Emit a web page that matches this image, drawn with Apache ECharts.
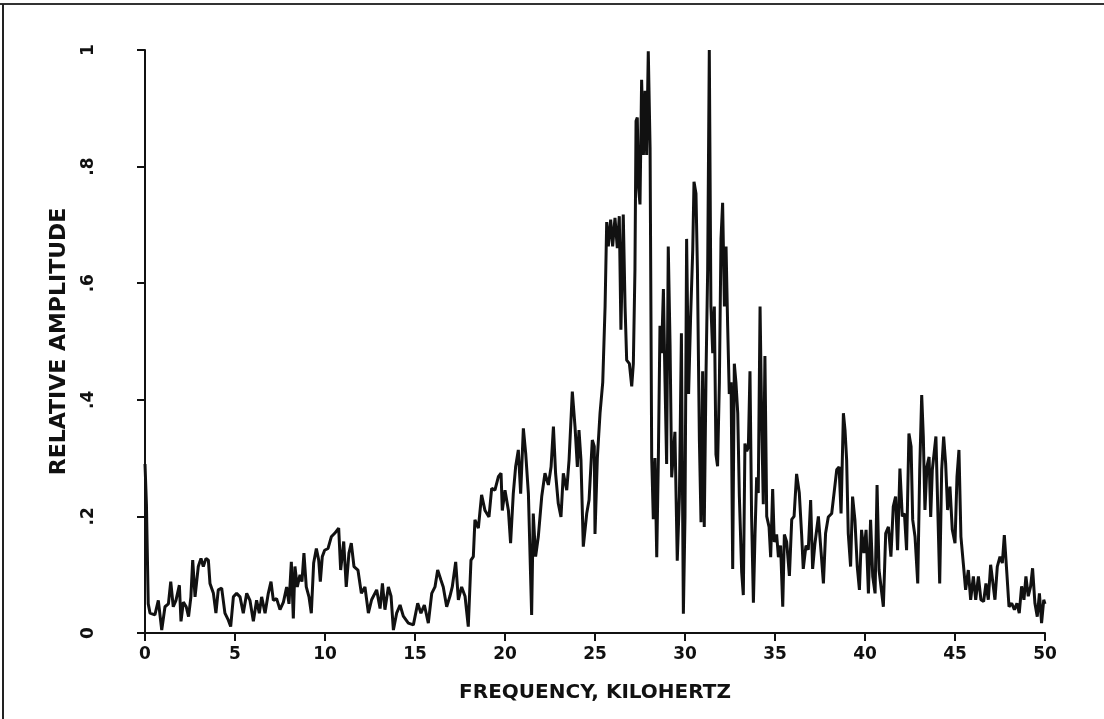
<!DOCTYPE html>
<html>
<head>
<meta charset="utf-8">
<script src="https://cdn.jsdelivr.net/npm/echarts@6/dist/echarts.min.js"></script>
<style>
html,body{margin:0;padding:0;background:#fff;}
#chart{width:1104px;height:719px;}
</style>
</head>
<body>
<div id="chart"></div>
<script>
// Frequency (kHz) and relative amplitude
const freqKHz = [
0,0.08,0.18,0.28,0.55,0.74,0.93,1.11,1.30,1.43,1.57,1.72,1.91,2.0,2.13,2.29,2.42,2.55,2.65,2.78,2.96,3.11,3.24,3.39,3.52,3.61,3.80,3.94,4.07,4.26,4.44,4.63,4.76,4.91,5.09,5.28,5.46,5.65,5.83,6.02,6.20,6.35,6.48,6.67,6.85,7.0,7.13,7.31,7.50,7.69,7.87,8.0,8.13,8.24,8.33,8.46,8.61,8.72,8.83,8.96,9.11,9.24,9.37,9.52,9.65,9.74,9.85,9.98,10.17,10.35,10.54,10.76,10.87,11.04,11.18,11.33,11.46,11.61,11.83,12.02,
12.22,12.41,12.59,12.87,13.06,13.19,13.33,13.52,13.67,13.80,13.98,14.17,14.35,14.63,14.91,15.15,15.33,15.52,15.74,15.93,16.11,16.26,16.44,16.57,16.76,16.94,17.07,17.26,17.41,17.59,17.78,17.96,18.11,18.24,18.33,18.52,18.70,18.89,19.11,19.26,19.44,19.63,19.78,19.85,20.0,20.19,20.31,20.46,20.59,20.74,20.87,21.02,21.15,21.30,21.48,21.57,21.70,21.85,22.04,22.22,22.41,22.56,22.69,22.81,22.96,23.11,23.24,23.43,23.56,23.74,23.89,24.02,24.11,24.22,24.35,24.54,24.67,24.85,24.96,
25.0,25.13,25.28,25.43,25.56,25.65,25.74,25.87,25.98,26.11,26.24,26.35,26.44,26.57,26.67,26.76,26.91,27.04,27.13,27.22,27.28,27.35,27.41,27.5,27.59,27.69,27.78,27.87,27.96,28.06,28.15,28.24,28.33,28.43,28.52,28.61,28.70,28.80,28.89,28.98,29.07,29.17,29.26,29.44,29.57,29.69,29.80,29.91,30.0,30.09,30.20,30.31,30.43,30.5,30.61,30.69,30.80,30.89,30.98,31.07,31.17,31.26,31.35,31.44,31.54,31.63,31.72,31.81,31.91,32.0,32.09,32.19,32.28,32.37,32.46,32.56,32.65,32.74,32.83,32.93,33.02,33.15,33.24,33.33,33.43,33.52,33.61,33.70,33.80,33.89,33.98,34.07,34.17,34.26,34.35,34.44,34.54,34.67,34.76,34.87,34.96,35.09,35.19,35.31,35.43,35.52,35.65,35.80,35.93,36.06,36.20,36.35,36.48,36.57,36.72,36.85,36.98,37.09,
37.22,37.41,37.56,37.69,37.81,37.96,38.15,38.30,38.43,38.56,38.67,38.80,38.89,38.98,39.07,39.20,39.31,39.44,39.57,39.69,39.81,39.94,40.06,40.19,40.31,40.43,40.56,40.67,40.78,40.89,41.02,41.15,41.30,41.44,41.57,41.70,41.81,41.94,42.07,42.19,42.31,42.44,42.56,42.65,42.78,42.93,43.04,43.15,43.24,43.33,43.44,43.56,43.65,43.74,43.85,43.94,44.04,44.15,44.26,44.37,44.48,44.59,44.72,44.85,45.0,45.11,45.22,45.33,45.46,45.59,45.74,45.87,46.02,46.15,46.30,46.44,46.59,46.72,46.85,46.98,47.09,47.22,47.35,47.50,47.63,47.74,47.87,48.0,48.15,48.30,48.44,48.57,48.70,48.83,48.94,49.07,49.20,49.31,49.44,49.57,49.69,49.81,49.93,50.0
];
const amplitude = [
0.29,0.22,0.05,0.034,0.031,0.056,0.005,0.045,0.05,0.088,0.045,0.056,0.082,0.02,0.053,0.045,0.028,0.062,0.125,0.062,0.114,0.128,0.114,0.128,0.125,0.085,0.068,0.034,0.074,0.077,0.034,0.022,0.011,0.062,0.068,0.062,0.034,0.068,0.056,0.02,0.056,0.034,0.062,0.034,0.068,0.088,0.056,0.059,0.04,0.053,0.079,0.05,0.122,0.025,0.114,0.079,0.10,0.088,0.137,0.079,0.062,0.034,0.12,0.145,0.125,0.088,0.131,0.142,0.145,0.165,0.171,0.18,0.108,0.157,0.079,0.137,0.154,0.114,0.108,0.068,
0.079,0.034,0.057,0.074,0.042,0.085,0.04,0.079,0.063,0.005,0.034,0.048,0.029,0.017,0.014,0.051,0.034,0.048,0.017,0.068,0.079,0.108,0.091,0.079,0.045,0.063,0.079,0.122,0.057,0.079,0.063,0.011,0.125,0.131,0.194,0.18,0.237,0.21,0.199,0.248,0.245,0.268,0.274,0.21,0.245,0.21,0.154,0.239,0.285,0.314,0.239,0.351,0.308,0.239,0.031,0.205,0.131,0.165,0.234,0.274,0.254,0.285,0.354,0.274,0.222,0.199,0.274,0.245,0.297,0.414,0.354,0.285,0.348,0.297,0.148,0.205,0.228,0.331,0.32,
0.17,0.30,0.377,0.43,0.56,0.705,0.663,0.709,0.663,0.712,0.66,0.715,0.52,0.718,0.56,0.468,0.462,0.423,0.462,0.624,0.878,0.884,0.767,0.735,0.949,0.82,0.93,0.82,0.998,0.832,0.30,0.195,0.30,0.13,0.30,0.527,0.48,0.59,0.43,0.29,0.663,0.494,0.267,0.345,0.124,0.234,0.514,0.033,0.2,0.676,0.41,0.54,0.657,0.774,0.754,0.624,0.33,0.19,0.449,0.182,0.449,0.624,1.0,0.56,0.48,0.56,0.306,0.286,0.43,0.676,0.738,0.56,0.663,0.527,0.41,0.43,0.11,0.462,0.43,0.377,0.234,0.104,0.065,0.325,0.312,0.319,0.449,0.2,0.052,0.169,0.267,0.24,0.56,0.364,0.221,0.475,0.2,0.182,0.13,0.247,0.156,0.169,0.13,0.15,0.045,0.169,0.156,0.098,0.195,0.2,0.273,0.24,0.169,0.11,0.15,0.143,0.228,0.11,
0.154,0.2,0.139,0.085,0.171,0.199,0.205,0.245,0.28,0.285,0.205,0.377,0.348,0.297,0.171,0.114,0.234,0.194,0.114,0.074,0.177,0.137,0.177,0.068,0.194,0.097,0.068,0.254,0.108,0.108,0.045,0.171,0.182,0.131,0.217,0.234,0.142,0.282,0.2,0.205,0.142,0.342,0.32,0.194,0.165,0.085,0.28,0.408,0.337,0.211,0.285,0.302,0.199,0.28,0.28,0.337,0.217,0.085,0.28,0.337,0.291,0.211,0.251,0.177,0.154,0.268,0.314,0.165,0.12,0.074,0.108,0.057,0.097,0.057,0.097,0.057,0.054,0.085,0.057,0.117,0.12,0.057,0.114,0.131,0.12,0.168,0.108,0.045,0.051,0.04,0.051,0.034,0.08,0.057,0.097,0.063,0.08,0.111,0.051,0.028,0.068,0.017,0.057,0.05
];
const xTicks = [0,5,10,15,20,25,30,35,40,45,50];
const yTickLabels = {0:'0',0.2:'.2',0.4:'.4',0.6:'.6',0.8:'.8',1:'1'};

const series = freqKHz.map((f, i) => [f, amplitude[i]]);
const FONT = 'DejaVu Sans';
const INK = '#111';

const chart = echarts.init(document.getElementById('chart'), null, {renderer: 'canvas'});
chart.setOption({
  animation: false,
  backgroundColor: '#fff',
  grid: {left: 145, right: 59, top: 50, bottom: 86, containLabel: false},
  xAxis: {
    type: 'value', min: xTicks[0], max: xTicks[xTicks.length - 1], interval: 5,
    axisLine: {show: true, onZero: false, lineStyle: {color: INK, width: 2}},
    axisTick: {show: true, inside: false, length: 8, lineStyle: {color: INK, width: 2}},
    splitLine: {show: false},
    axisLabel: {color: INK, fontFamily: FONT, fontWeight: 'bold', fontSize: 17, margin: 13},
    name: 'FREQUENCY, KILOHERTZ', nameLocation: 'middle', nameGap: 50,
    nameTextStyle: {color: INK, fontFamily: FONT, fontWeight: 'bold', fontSize: 20}
  },
  yAxis: {
    type: 'value', min: 0, max: 1, interval: 0.2,
    axisLine: {show: true, lineStyle: {color: INK, width: 2}},
    axisTick: {show: true, inside: false, length: 8, lineStyle: {color: INK, width: 2}},
    splitLine: {show: false},
    axisLabel: {
      color: INK, fontFamily: FONT, fontWeight: 'bold', fontSize: 17, rotate: 90, margin: 48,
      formatter: v => { const k = Math.round(v * 10) / 10; return yTickLabels[k] !== undefined ? yTickLabels[k] : String(k); }
    },
    name: 'RELATIVE AMPLITUDE', nameLocation: 'middle', nameRotate: 90, nameGap: 75,
    nameTextStyle: {color: INK, fontFamily: FONT, fontWeight: 'bold', fontSize: 22}
  },
  graphic: [
    {type: 'line', shape: {x1: 0, y1: 4, x2: 1104, y2: 4}, style: {stroke: '#333', lineWidth: 2}},
    {type: 'line', shape: {x1: 3, y1: 4, x2: 3, y2: 719}, style: {stroke: '#222', lineWidth: 2}}
  ],
  series: [{
    type: 'line', data: series, showSymbol: false, symbol: 'none',
    lineStyle: {color: INK, width: 3}, clip: true
  }]
});
</script>
</body>
</html>
